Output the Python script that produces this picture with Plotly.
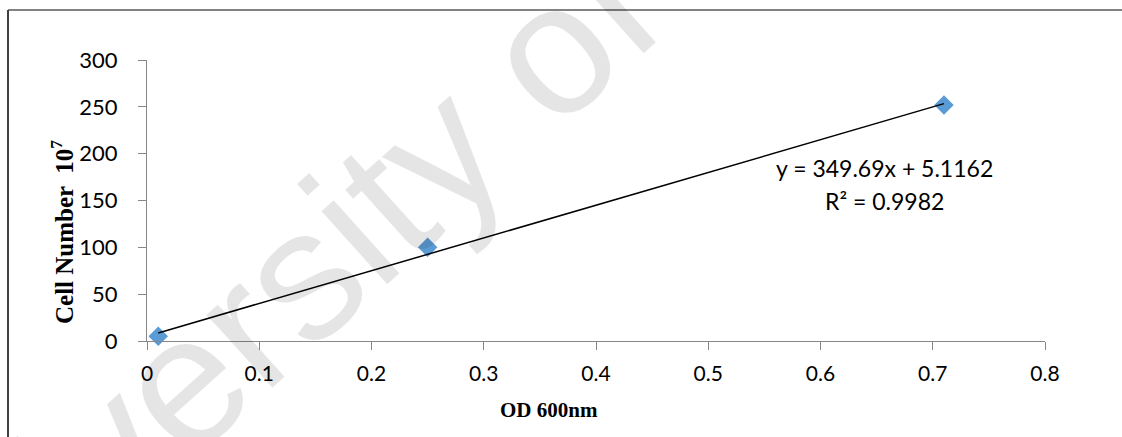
import plotly.graph_objects as go

# ---- data ----
od600 = [0.01, 0.25, 0.71]
cell_number = [5, 100, 252]
trend_slope = 349.69
trend_intercept = 5.1162
r_squared = 0.9982
x_ticks = [0, 0.1, 0.2, 0.3, 0.4, 0.5, 0.6, 0.7, 0.8]
y_ticks = [0, 50, 100, 150, 200, 250, 300]

W, H = 1122, 437
L, R, T, B = 147, 77, 60, 96

trend_x = [min(od600), max(od600)]
trend_y = [trend_slope * v + trend_intercept for v in trend_x]

fig = go.Figure()
fig.add_trace(go.Scatter(
    x=od600, y=cell_number, mode="markers",
    marker=dict(symbol="diamond", size=15, color="#5B9BD5", line=dict(width=0)),
    cliponaxis=False, showlegend=False))
fig.add_trace(go.Scatter(
    x=trend_x, y=trend_y, mode="lines",
    line=dict(color="black", width=1.5),
    cliponaxis=False, showlegend=False))

axis_col = "#878787"
fig.update_layout(
    width=W, height=H,
    margin=dict(l=L, r=R, t=T, b=B, pad=0),
    paper_bgcolor="white", plot_bgcolor="white",
    xaxis=dict(range=[0, 0.8], tickvals=x_ticks, ticktext=[f"{v:g}" for v in x_ticks],
               showline=True, linecolor=axis_col, linewidth=1,
               ticks="outside", ticklen=8, tickcolor=axis_col, tickwidth=1,
               showgrid=False, zeroline=False, ticklabelstandoff=6,
               tickfont=dict(family="Lato", size=21, color="black")),
    yaxis=dict(range=[0, 300], tickvals=y_ticks,
               showline=True, linecolor=axis_col, linewidth=1,
               ticks="outside", ticklen=8, tickcolor=axis_col, tickwidth=1,
               showgrid=False, zeroline=False, ticklabelstandoff=16,
               tickfont=dict(family="Lato", size=22, color="black")),
)

def px(xp):
    return (xp - L) / (W - L - R)

def py(yp):
    return (H - B - yp) / (H - T - B)

# frame lines (top and left)
fig.add_shape(type="line", xref="paper", yref="paper",
              x0=px(8), x1=px(W), y0=py(10), y1=py(10),
              line=dict(color="#595959", width=1.5))
fig.add_shape(type="line", xref="paper", yref="paper",
              x0=px(8), x1=px(8), y0=py(10), y1=py(H),
              line=dict(color="#404040", width=2))

def note(text, xp, yp, size, family, angle=0, color="black"):
    fig.add_annotation(text=text, xref="paper", yref="paper",
                       x=px(xp), y=py(yp), xanchor="center", yanchor="middle",
                       showarrow=False, textangle=angle,
                       font=dict(family=family, size=size, color=color))

# watermark (drawn semi-transparent)
note("University of Malaya", 488, 106, 186, "Liberation Sans", angle=-42,
     color="rgba(0,0,0,0.10)")

# axis titles
note("<b>OD 600nm</b>", 549, 410, 21, "Liberation Serif")
note("<b>Cell Number  10<sup>7</sup></b>", 62, 232, 25, "Liberation Serif", angle=-90)

# trendline equation
note(f"y = {trend_slope}x + {trend_intercept}", 884, 168, 23, "Lato")
note(f"R² = {r_squared}", 884, 201, 23, "Lato")

fig.write_html("out.html", config={"displayModeBar": False},
               post_script="document.body.style.margin='0';")
